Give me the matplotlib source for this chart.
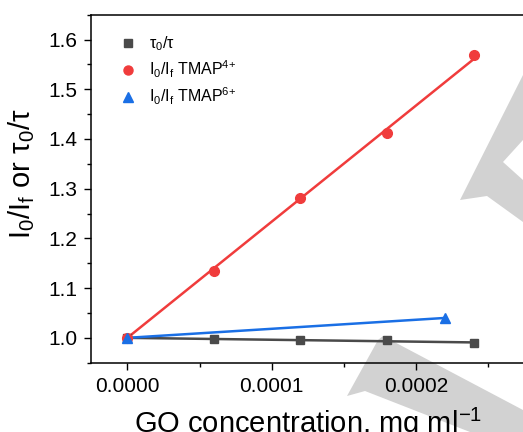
import numpy as np
import matplotlib
matplotlib.use("Agg")
import matplotlib.pyplot as plt
from matplotlib.lines import Line2D
from matplotlib.patches import Polygon

plt.rcParams['font.family'] = ['Liberation Sans', 'DejaVu Sans']
plt.rcParams['mathtext.fontset'] = 'custom'
plt.rcParams['mathtext.rm'] = 'Liberation Sans'
plt.rcParams['mathtext.it'] = 'Liberation Sans:italic'

# GO concentration (mg/ml)
conc = [0.0, 0.00006, 0.00012, 0.00018, 0.00024]
tau_ratio = [1.000, 0.998, 0.996, 0.995, 0.989]
tmap4 = [1.000, 1.134, 1.281, 1.412, 1.568]
conc6 = [0.0, 0.00022]
tmap6 = [1.000, 1.040]

c_gray = '#4a4a4a'
c_red = '#f03c3c'
c_blue = '#1a6fe5'

def sv_fit(x, y):
    # Stern-Volmer fit forced through (0, 1)
    x = np.asarray(x); y = np.asarray(y)
    k = np.sum(x * (y - 1)) / np.sum(x * x)
    return 1 + k * x

W, H = 523, 432
fig = plt.figure(figsize=(W / 100, H / 100), dpi=100)
ax = fig.add_axes([91.3 / W, 69.3 / H, 432.8 / W, 348 / H])
ax.patch.set_visible(False)

# watermark shapes behind the plot
wm1 = [(523, 75), (460, 200), (487, 196), (523, 222), (523, 180), (503, 162), (523, 140)]
wm2 = [(383, 336), (523, 410), (523, 432), (470, 432), (365, 391), (347, 396), (378, 340)]
for pts in (wm1, wm2):
    fig.patches.append(Polygon([(px / W, 1 - py / H) for px, py in pts], closed=True,
                               transform=fig.transFigure, facecolor='#d2d2d2',
                               edgecolor='none', zorder=-5))

ax.plot(conc, sv_fit(conc, tau_ratio), color=c_gray, lw=1.8, zorder=2)
ax.plot(conc, tau_ratio, 's', color=c_gray, ms=6, zorder=3)
ax.plot(conc, sv_fit(conc, tmap4), color=c_red, lw=1.8, zorder=2)
ax.plot(conc, tmap4, 'o', color=c_red, ms=7, zorder=3)
ax.plot(conc6, tmap6, color=c_blue, lw=1.8, zorder=2)
ax.plot(conc6, tmap6, '^', color=c_blue, ms=7.5, zorder=3)

ax.set_xlim(-0.000025, 0.000275)
ax.set_ylim(0.95, 1.65)
ax.set_xticks([0.0, 0.0001, 0.0002])
ax.set_xticklabels(['0.0000', '0.0001', '0.0002'])
ax.set_xticks([0.00005, 0.00015, 0.00025], minor=True)
ax.set_yticks(np.arange(1.0, 1.61, 0.1))
ax.set_yticks(np.arange(0.95, 1.66, 0.1), minor=True)
ax.tick_params(which='major', direction='out', length=5, width=1, labelsize=15, pad=5)
ax.tick_params(which='minor', direction='out', length=3, width=1)
ax.spines['right'].set_visible(False)
for s in ('left', 'bottom', 'top'):
    ax.spines[s].set_linewidth(1.1)

ax.set_xlabel('GO concentration, mg ml$^{-1}$', fontsize=21, labelpad=7)
ax.set_ylabel(r'I$_0$/I$_\mathrm{f}$ or τ$_0$/τ', fontsize=21)
ax.yaxis.set_label_coords(-0.125, 0.544)

handles = [Line2D([], [], ls='none', marker='s', color=c_gray, ms=5.5),
           Line2D([], [], ls='none', marker='o', color=c_red, ms=6.5),
           Line2D([], [], ls='none', marker='^', color=c_blue, ms=7)]
labels = [r'τ$_0$/τ', r'I$_0$/I$_\mathrm{f}$ TMAP$^{4{+}}$', r'I$_0$/I$_\mathrm{f}$ TMAP$^{6{+}}$']
ax.legend(handles, labels, loc='upper left', bbox_to_anchor=(0.03, 0.985), frameon=False,
          fontsize=11.5, handlelength=1.2, handletextpad=0.7, labelspacing=0.35)

fig.savefig('out.png', dpi=100)
